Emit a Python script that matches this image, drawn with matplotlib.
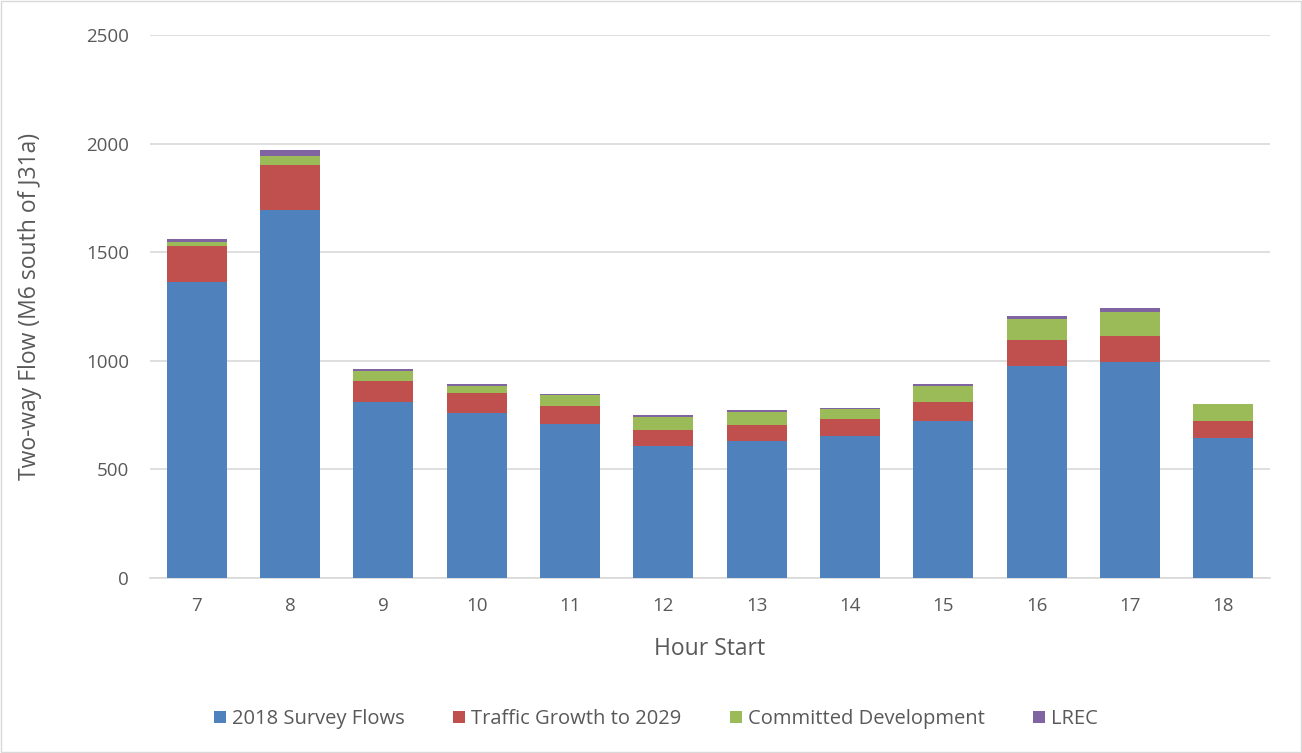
import matplotlib.pyplot as plt
import numpy as np

hours = ['7', '8', '9', '10', '11', '12', '13', '14', '15', '16', '17', '18']
survey_2018 = [1365, 1695, 810, 758, 708, 609, 629, 655, 722, 978, 995, 645]
growth_2029 = [165, 205, 97, 92, 85, 74, 77, 78, 87, 118, 120, 80]
committed = [18, 42, 46, 35, 48, 58, 60, 44, 76, 96, 110, 76]
lrec = [12, 30, 8, 10, 6, 8, 7, 6, 10, 12, 17, 0]

series = [
    ('2018 Survey Flows', survey_2018, '#4f81bd'),
    ('Traffic Growth to 2029', growth_2029, '#c0504d'),
    ('Committed Development', committed, '#9bbb59'),
    ('LREC', lrec, '#8064a2'),
]

plt.rcParams['font.family'] = ['Open Sans', 'DejaVu Sans']
text_col = '#595959'

fig = plt.figure(figsize=(13.02, 7.53), dpi=100)
ax = fig.add_axes([0.1152, 0.2324, 0.8602, 0.7211])

x = np.arange(len(hours))
bottom = np.zeros(len(hours))
for name, vals, col in series:
    ax.bar(x, vals, 0.64, bottom=bottom, color=col, label=name, zorder=3)
    bottom += np.array(vals)

ax.set_xlim(-0.5, len(hours) - 0.5)
ax.set_ylim(0, 2500)
ax.set_yticks(range(0, 2501, 500))
ax.set_xticks(x)
ax.set_xticklabels(hours)
ax.grid(axis='y', color='#d9d9d9', linewidth=1.2, zorder=0)
for s in ['top', 'right', 'left']:
    ax.spines[s].set_visible(False)
ax.spines['bottom'].set_color('#d9d9d9')
ax.spines['bottom'].set_linewidth(1.2)
ax.tick_params(length=0, labelsize=13.5, colors=text_col)
ax.tick_params(axis='x', pad=14)
ax.tick_params(axis='y', pad=15)
ax.set_xlabel('Hour Start', fontsize=16.5, color=text_col, va='center')
ax.set_ylabel('Two-way Flow (M6 south of J31a)', fontsize=16.5, color=text_col, va='center')
ax.xaxis.set_label_coords(0.5, -0.13)
ax.yaxis.set_label_coords(-0.107, 0.5)

fig.legend(loc='center', bbox_to_anchor=(0.504, 0.045), ncol=4, frameon=False,
           fontsize=14.5, labelcolor=text_col, handlelength=0.6, handleheight=0.6,
           handletextpad=0.3, columnspacing=2.4)

fig.patches.append(plt.Rectangle((0.001, 0.001), 0.998, 0.998, transform=fig.transFigure,
                                 fill=False, edgecolor='#d9d9d9', linewidth=1))

fig.savefig('out.png', dpi=100)
